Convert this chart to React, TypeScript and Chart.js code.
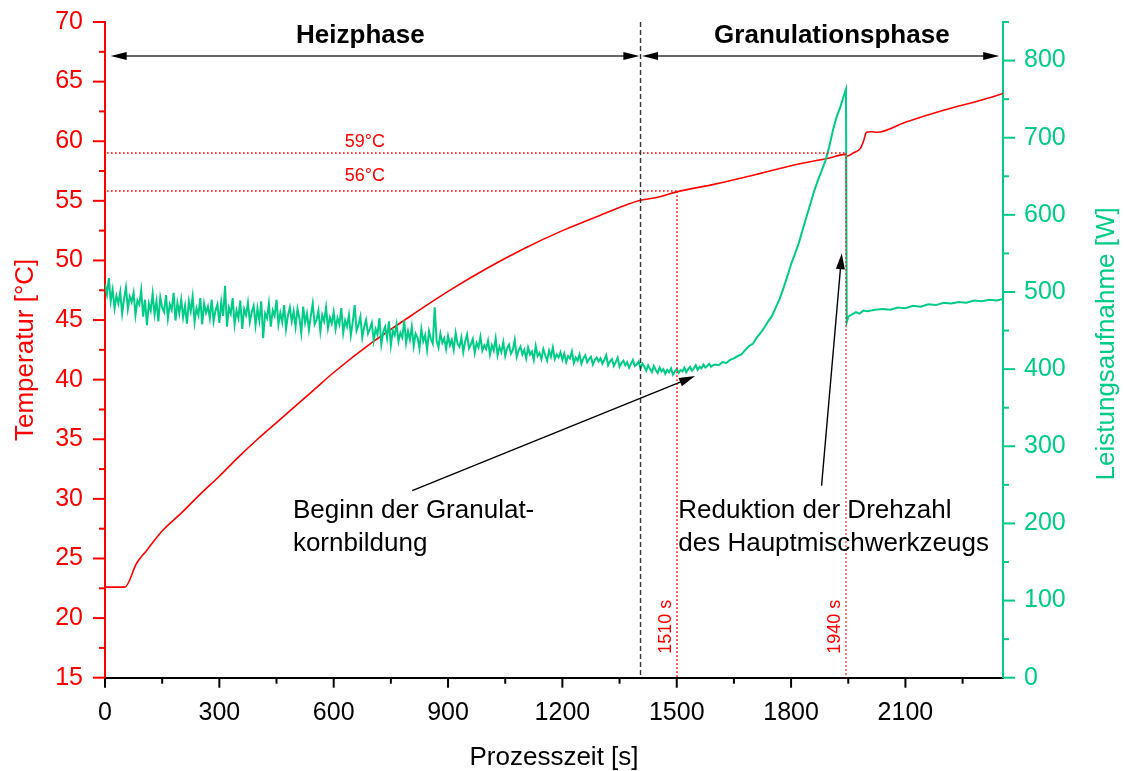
import React, { useEffect, useRef } from 'react';
import { Chart, registerables } from 'chart.js';

Chart.register(...registerables);

const FONT = '"Liberation Sans", Arial, Helvetica, sans-serif';
const RED = '#ff0000';
const GREEN = '#00cc88';

// ---- axis ranges / tick labels ----
const xMin = 0;
const xMax = 2356;
const xTickLabels = [0, 300, 600, 900, 1200, 1500, 1800, 2100];
const tempMin = 15;
const tempMax = 70;
const tempTickLabels = [15, 20, 25, 30, 35, 40, 45, 50, 55, 60, 65, 70];
const powerMin = 0;
const powerMax = 850;
const powerTickLabels = [0, 100, 200, 300, 400, 500, 600, 700, 800];

// ---- temperature series (°C) ----
const tempTimes = [0, 52, 83, 110, 150, 200, 250, 300, 350, 400, 450, 500, 550, 600, 700, 800, 900, 1000, 1100, 1200, 1300, 1400, 1450, 1500, 1600, 1700, 1800, 1900, 1942, 1947, 1965, 1982, 1990, 1998, 2010, 2025, 2100, 2200, 2300, 2356];
const tempValues = [22.6, 22.6, 24.6, 25.7, 27.3, 28.8, 30.4, 31.9, 33.5, 35.0, 36.4, 37.8, 39.2, 40.6, 43.1, 45.3, 47.4, 49.3, 51.0, 52.5, 53.8, 55.0, 55.3, 55.75, 56.4, 57.15, 57.95, 58.6, 58.9, 58.75, 59.05, 59.4, 60.0, 60.75, 60.8, 60.75, 61.6, 62.6, 63.45, 64.0];

// ---- power series (W) ----
// heating phase, sampled every 5 s from 0 s to 1595 s
const powerEarlyStep = 5;
const powerEarly = [
  510, 497, 518, 488, 503, 479, 495, 485, 500, 472, 491, 506, 478, 494, 487, 499, 470, 489, 484, 502,
  468, 490, 457, 485, 476, 498, 471, 488, 462, 493, 480, 474, 496, 466, 484, 477, 499, 463, 486, 472,
  490, 467, 482, 459, 488, 475, 494, 461, 479, 470, 492, 458, 485, 473, 481, 466, 490, 462, 476, 484,
  460, 487, 469, 508, 455, 480, 472, 492, 458, 476, 466, 489, 452, 478, 470, 486, 461, 474, 482, 457,
  479, 463, 488, 440, 472, 466, 485, 455, 476, 469, 490, 458, 473, 461, 483, 452, 470, 480, 462, 475,
  455, 478, 466, 447, 481, 460, 472, 451, 469, 485, 458, 464, 476, 449, 470, 462, 480, 453, 467, 459,
  474, 452, 466, 458, 479, 447, 463, 455, 470, 444, 461, 483, 450, 457, 468, 441, 455, 464, 446, 452,
  460, 437, 452, 445, 466, 432, 448, 455, 440, 462, 431, 450, 444, 458, 436, 447, 441, 463, 434, 449,
  438, 455, 430, 446, 441, 427, 452, 436, 444, 425, 449, 439, 433, 480, 437, 428, 446, 434, 440, 426,
  443, 431, 438, 425, 447, 433, 429, 441, 422, 436, 445, 427, 432, 439, 421, 434, 428, 442, 424, 431,
  426, 437, 419, 431, 424, 440, 418, 429, 422, 435, 417, 427, 432, 420, 425, 438, 416, 424, 429, 419,
  425, 414, 428, 419, 423, 412, 430, 417, 421, 413, 426, 418, 411, 424, 416, 428, 413, 419, 415, 422,
  412, 420, 409, 417, 414, 423, 408, 415, 411, 419, 407, 414, 418, 409, 413, 416, 406, 412, 415, 410,
  414, 407, 412, 418, 405, 410, 413, 404, 409, 415, 403, 408, 411, 405, 409, 402, 407, 412, 404, 406,
  410, 401, 407, 403, 398, 405, 400, 396, 404, 399, 395, 402, 397, 400, 394, 399, 396, 401, 393, 397,
  400, 395, 399, 397, 402, 396, 400, 403, 398, 401, 405, 399, 403, 401, 406, 402, 404, 407, 403, 405,
];
const powerRampTimes = [1600, 1610, 1620, 1630, 1640, 1650, 1660, 1670, 1680, 1690, 1700, 1710, 1720, 1730, 1740, 1750, 1760, 1770, 1780, 1790, 1800, 1810, 1820, 1830, 1840, 1850, 1860, 1870, 1880, 1890, 1900, 1910, 1920, 1930, 1940, 1944];
const powerRampValues = [406, 405, 409, 408, 412, 414, 417, 419, 425, 430, 433, 441, 447, 454, 462, 469, 480, 491, 505, 520, 536, 549, 563, 580, 597, 613, 630, 644, 657, 670, 688, 710, 728, 741, 757, 763];
const powerLateTimes = [1946, 1950, 1960, 1970, 1980, 1990, 2000, 2020, 2040, 2060, 2080, 2100, 2120, 2140, 2160, 2180, 2200, 2220, 2240, 2260, 2280, 2300, 2320, 2340, 2356];
const powerLateValues = [461, 468, 471, 474, 472, 476, 475, 477, 478, 477, 480, 479, 482, 481, 484, 483, 486, 485, 487, 486, 489, 488, 490, 489, 491];

// ---- annotations (data coordinates) ----
const phaseArrowTemp = 67.15;
const phaseLabels = ['Heizphase', 'Granulationsphase'];
const phaseFrom = [15, 1409];
const phaseTo = [1402, 2346];
const phaseLabelCenter = [670, 1907];
const phaseDivider = 1405;
const refTemps = [59.0, 55.8];
const refTempLabels = ['59°C', '56°C'];
const refTempEnds = [1944, 1502];
const refTempLabelTime = 682;
const refTimes = [1502, 1944];
const refTimeLabels = ['1510 s', '1940 s'];
const noteLines = [['Beginn der Granulat-', 'kornbildung'], ['Reduktion der Drehzahl', 'des Hauptmischwerkzeugs']];
const noteAnchorTime = [493, 1504];
const noteAnchorTemp = 28.4;
const noteArrowFrom = [[806, 30.7], [1880, 31.1]];
const noteArrowTo = [[1548, 40.3], [1933, 50.6]];

function arrowHead(ctx: CanvasRenderingContext2D, fx: number, fy: number, tx: number, ty: number, len: number, half: number) {
  const a = Math.atan2(ty - fy, tx - fx);
  const bx = tx - len * Math.cos(a);
  const by = ty - len * Math.sin(a);
  ctx.beginPath();
  ctx.moveTo(tx, ty);
  ctx.lineTo(bx + half * Math.sin(a), by - half * Math.cos(a));
  ctx.lineTo(bx - half * Math.sin(a), by + half * Math.cos(a));
  ctx.closePath();
  ctx.fill();
}

const decorPlugin = {
  id: 'decor',
  afterDraw(chart: any) {
    const { ctx, chartArea: ca } = chart;
    const sx = chart.scales.x;
    const sy = chart.scales.y;
    const sw = chart.scales.y2;
    const X = (v: number) => sx.getPixelForValue(v);
    const Y = (v: number) => sy.getPixelForValue(v);
    const W = (v: number) => sw.getPixelForValue(v);
    const line = (x1: number, y1: number, x2: number, y2: number) => {
      ctx.beginPath();
      ctx.moveTo(x1, y1);
      ctx.lineTo(x2, y2);
      ctx.stroke();
    };
    ctx.save();

    // tick marks
    ctx.lineWidth = 2;
    ctx.setLineDash([]);
    ctx.strokeStyle = '#000';
    for (let v = xMin; v <= xMax; v += 150) {
      const major = v % 300 === 0;
      const x = X(v);
      line(x, ca.bottom, x, ca.bottom + (major ? 10 : 6));
    }
    ctx.strokeStyle = RED;
    for (let v = tempMin; v <= tempMax; v += 2.5) {
      const major = v % 5 === 0;
      const y = Y(v);
      line(ca.left - (major ? 12 : 6), y, ca.left, y);
    }
    ctx.strokeStyle = GREEN;
    for (let v = powerMin; v <= powerMax; v += 50) {
      const major = v % 100 === 0;
      const y = W(v);
      line(ca.right, y, ca.right + (major ? 12 : 6), y);
    }

    // red dotted reference lines
    ctx.strokeStyle = RED;
    ctx.lineWidth = 1.4;
    ctx.setLineDash([1.6, 2.4]);
    refTemps.forEach((t, i) => line(ca.left + 2, Math.round(Y(t)), X(refTempEnds[i]), Math.round(Y(t))));
    refTimes.forEach((t, i) => line(Math.round(X(t)), Y(refTemps[1 - i]), Math.round(X(t)), ca.bottom));

    // phase divider
    ctx.strokeStyle = '#333';
    ctx.lineWidth = 1.4;
    ctx.setLineDash([5, 3]);
    line(X(phaseDivider), ca.top, X(phaseDivider), ca.bottom);
    ctx.setLineDash([]);

    // phase arrows
    const ay = Y(phaseArrowTemp);
    phaseLabels.forEach((lab, i) => {
      const x1 = X(phaseFrom[i]);
      const x2 = X(phaseTo[i]);
      ctx.strokeStyle = '#666';
      ctx.lineWidth = 2;
      line(x1 + 8, ay, x2 - 8, ay);
      ctx.fillStyle = '#000';
      arrowHead(ctx, x2, ay, x1, ay, 16, 4);
      arrowHead(ctx, x1, ay, x2, ay, 16, 4);
      ctx.font = `bold 26px ${FONT}`;
      ctx.textAlign = 'center';
      ctx.textBaseline = 'alphabetic';
      ctx.fillText(lab, X(phaseLabelCenter[i]), ay - 12.5);
    });

    // temperature labels
    ctx.fillStyle = RED;
    ctx.font = `18px ${FONT}`;
    ctx.textAlign = 'center';
    ctx.textBaseline = 'alphabetic';
    ctx.fillText(refTempLabels[0], X(refTempLabelTime), Y(refTemps[0]) - 5.7);
    ctx.fillText(refTempLabels[1], X(refTempLabelTime), Y(refTemps[1]) - 10);

    // time labels (rotated)
    refTimes.forEach((t, i) => {
      ctx.save();
      ctx.translate(X(t) - 6, ca.bottom - 51);
      ctx.rotate(-Math.PI / 2);
      ctx.fillText(refTimeLabels[i], 0, 0);
      ctx.restore();
    });

    // notes with arrows
    ctx.fillStyle = '#000';
    ctx.strokeStyle = '#000';
    ctx.lineWidth = 1.4;
    ctx.font = `26px ${FONT}`;
    ctx.textAlign = 'left';
    noteLines.forEach((lines, i) => {
      const x = X(noteAnchorTime[i]);
      const y = Y(noteAnchorTemp);
      lines.forEach((s, k) => ctx.fillText(s, x, y + k * 33.4));
      const fx = X(noteArrowFrom[i][0]);
      const fy = Y(noteArrowFrom[i][1]);
      const tx = X(noteArrowTo[i][0]);
      const ty = Y(noteArrowTo[i][1]);
      const a = Math.atan2(ty - fy, tx - fx);
      line(fx, fy, tx - 10 * Math.cos(a), ty - 10 * Math.sin(a));
      arrowHead(ctx, fx, fy, tx, ty, 16, 4.5);
    });

    // axis titles
    ctx.font = `26px ${FONT}`;
    ctx.textAlign = 'center';
    ctx.textBaseline = 'alphabetic';
    ctx.fillStyle = RED;
    ctx.save();
    ctx.translate(ca.left - 72, (ca.top + ca.bottom) / 2);
    ctx.rotate(-Math.PI / 2);
    ctx.fillText('Temperatur [°C]', 0, 0);
    ctx.restore();
    ctx.fillStyle = GREEN;
    ctx.save();
    ctx.translate(ca.right + 110.5, (ca.top + ca.bottom) / 2 - 6);
    ctx.rotate(-Math.PI / 2);
    ctx.fillText('Leistungsaufnahme [W]', 0, 0);
    ctx.restore();
    ctx.fillStyle = '#000';
    ctx.fillText('Prozesszeit [s]', (ca.left + ca.right) / 2, ca.bottom + 87.5);

    ctx.restore();
  },
};

const zeroPad = (s: any) => {
  s.paddingTop = 0;
  s.paddingBottom = 0;
  s.paddingLeft = 0;
  s.paddingRight = 0;
};

export default function App() {
  const ref = useRef<HTMLCanvasElement | null>(null);

  useEffect(() => {
    if (!ref.current) return;
    const powerData = [
      ...powerEarly.map((v, i) => ({ x: i * powerEarlyStep, y: v })),
      ...powerRampTimes.map((t, i) => ({ x: t, y: powerRampValues[i] })),
      ...powerLateTimes.map((t, i) => ({ x: t, y: powerLateValues[i] })),
    ];
    const tempData = tempTimes.map((t, i) => ({ x: t, y: tempValues[i] }));
    const tickFont = { family: FONT, size: 25 };
    const noGrid = { display: false, drawTicks: false, tickLength: 0 };
    const chart = new Chart(ref.current, {
      type: 'line',
      data: {
        datasets: [
          {
            label: 'Leistungsaufnahme',
            data: powerData,
            yAxisID: 'y2',
            borderColor: GREEN,
            borderWidth: 2,
            pointRadius: 0,
            tension: 0,
          },
          {
            label: 'Temperatur',
            data: tempData,
            yAxisID: 'y',
            borderColor: RED,
            borderWidth: 1.6,
            pointRadius: 0,
            cubicInterpolationMode: 'monotone',
          },
        ],
      },
      options: {
        animation: false,
        responsive: false,
        devicePixelRatio: 1,
        layout: { padding: { top: 22, left: 0, right: 0, bottom: 0 }, autoPadding: false },
        plugins: { legend: { display: false }, tooltip: { enabled: false } },
        scales: {
          x: {
            type: 'linear',
            position: 'bottom',
            min: xMin,
            max: xMax,
            afterFit: (s: any) => { s.height = 93.3; zeroPad(s); },
            afterBuildTicks: (s: any) => { s.ticks = xTickLabels.map((v) => ({ value: v })); },
            border: { display: true, color: '#000', width: 2 },
            grid: noGrid,
            ticks: { color: '#000', font: tickFont, padding: 20, maxRotation: 0, autoSkip: false, callback: (v: any) => String(v) },
          },
          y: {
            type: 'linear',
            position: 'left',
            min: tempMin,
            max: tempMax,
            afterFit: (s: any) => { s.width = 105; zeroPad(s); },
            afterBuildTicks: (s: any) => { s.ticks = tempTickLabels.map((v) => ({ value: v })); },
            border: { display: true, color: RED, width: 2 },
            grid: noGrid,
            ticks: { color: RED, font: tickFont, padding: 22, autoSkip: false, callback: (v: any) => String(v) },
          },
          y2: {
            type: 'linear',
            position: 'right',
            min: powerMin,
            max: powerMax,
            afterFit: (s: any) => { s.width = 121; zeroPad(s); },
            afterBuildTicks: (s: any) => { s.ticks = powerTickLabels.map((v) => ({ value: v })); },
            border: { display: true, color: GREEN, width: 2 },
            grid: noGrid,
            ticks: { color: GREEN, font: tickFont, padding: 21, autoSkip: false, callback: (v: any) => String(v) },
          },
        },
      },
      plugins: [decorPlugin],
    } as any);
    return () => chart.destroy();
  }, []);

  return (
    <div style={{ position: 'absolute', left: 0, top: 0, width: 1124, height: 771, background: '#fff' }}>
      <canvas ref={ref} width={1124} height={771} style={{ display: 'block' }} />
    </div>
  );
}
